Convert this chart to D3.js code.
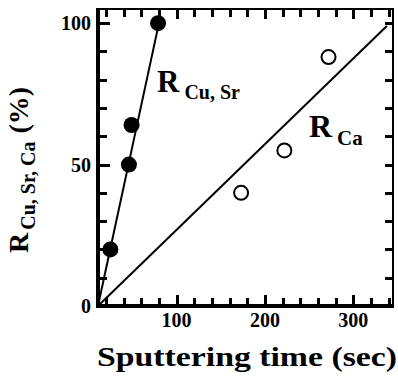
<!DOCTYPE html>
<html>
<head>
<meta charset="utf-8">
<script src="https://cdn.jsdelivr.net/npm/d3@7"></script>
<style>
  body { margin: 0; background: #fff; }
</style>
</head>
<body>
<div id="chart"></div>
<script>
// data
var cuSrTime = [25, 46, 49, 79];
var cuSrValue = [20, 50, 64, 100];
var caTime = [173, 222, 272];
var caValue = [40, 55, 88];
// fitted lines (end points)
var cuSrFitTime = [11, 80];
var cuSrFitValue = [0, 100];
var caFitTime = [11, 338];
var caFitValue = [0, 99];
// ticks
var xLabelTicks = [100, 200, 300];
var xMinorTicks = [20, 40, 60, 80, 120, 140, 160, 180, 220, 240, 260, 280, 320, 340];
var yLabelTicks = [0, 50, 100];
var yMinorTicks = [10, 20, 30, 40, 60, 70, 80, 90];

var fontFamily = "'Liberation Serif', 'Times New Roman', Times, serif";

var svgWidth = 398, svgHeight = 385;
var margin = {top: 9, right: 5, bottom: 79, left: 98};
var graphWidth = svgWidth - margin.left - margin.right;
var graphHeight = svgHeight - margin.top - margin.bottom;

var svg = d3.select("#chart").append("svg")
    .attr("width", svgWidth)
    .attr("height", svgHeight)
    .attr("font-family", fontFamily)
    .attr("font-weight", "bold");
var g = svg.append("g")
    .attr("transform", "translate(" + margin.left + "," + margin.top + ")");

var x = d3.scaleLinear().domain([11, 345]).range([0, graphWidth]);
var y = d3.scaleLinear().domain([0, 105]).range([graphHeight, 0]);

// frame
g.append("rect").attr("x", 0).attr("y", 0).attr("width", graphWidth).attr("height", graphHeight)
    .attr("fill", "none").attr("stroke", "#000").attr("stroke-width", 2);
g.append("line").attr("x1", 0).attr("x2", 0).attr("y1", -1).attr("y2", graphHeight + 2)
    .attr("stroke", "#000").attr("stroke-width", 4);
g.append("line").attr("x1", -2).attr("x2", graphWidth + 1).attr("y1", graphHeight).attr("y2", graphHeight)
    .attr("stroke", "#000").attr("stroke-width", 4);

// inward ticks on all four sides
var ticks = g.append("g").attr("class", "ticks");
function xTicks(values, y0, len){
    ticks.selectAll(null).data(values).enter().append("rect")
        .attr("x", d => Math.round(x(d)) - 1).attr("width", 3)
        .attr("y", len < 0 ? y0 + len : y0).attr("height", Math.abs(len))
        .attr("fill", "#000");
}
function yTicks(values, x0, len){
    ticks.selectAll(null).data(values).enter().append("rect")
        .attr("y", d => Math.round(y(d)) - 1).attr("height", 3)
        .attr("x", len < 0 ? x0 + len : x0).attr("width", Math.abs(len))
        .attr("fill", "#000");
}
xTicks(xMinorTicks, graphHeight, -8);
xTicks(xLabelTicks, graphHeight, -11);
xTicks(xMinorTicks, 0, 8);
xTicks(xLabelTicks, 0, 10);
yTicks(yMinorTicks, 0, 9);
yTicks(yLabelTicks, 0, 12);
yTicks(yMinorTicks.concat(yLabelTicks), graphWidth, -8);

// tick labels
g.selectAll(".xlab").data(xLabelTicks).enter().append("text")
    .attr("x", d => x(d)).attr("y", graphHeight + 21)
    .attr("text-anchor", "middle").attr("font-size", 20)
    .text(d => d);
g.selectAll(".ylab").data(yLabelTicks).enter().append("text")
    .attr("x", -7).attr("y", d => y(d) + 7)
    .attr("text-anchor", "end").attr("font-size", 20)
    .text(d => d);

// fit lines
var line = d3.line().x(d => x(d[0])).y(d => y(d[1]));
g.append("path").datum(d3.zip(cuSrFitTime, cuSrFitValue))
    .attr("d", line).attr("fill", "none").attr("stroke", "#000").attr("stroke-width", 2);
g.append("path").datum(d3.zip(caFitTime, caFitValue))
    .attr("d", line).attr("fill", "none").attr("stroke", "#000").attr("stroke-width", 2);

// points
g.selectAll(".cusr").data(d3.zip(cuSrTime, cuSrValue)).enter().append("circle")
    .attr("cx", d => x(d[0])).attr("cy", d => y(d[1])).attr("r", 8)
    .attr("fill", "#000");
g.selectAll(".ca").data(d3.zip(caTime, caValue)).enter().append("circle")
    .attr("cx", d => x(d[0])).attr("cy", d => y(d[1])).attr("r", 7)
    .attr("fill", "#fff").attr("stroke", "#000").attr("stroke-width", 2);

// in-plot labels
var lab1 = svg.append("text").attr("x", 157).attr("y", 92).attr("font-size", 31);
lab1.append("tspan").text("R");
lab1.append("tspan").attr("dx", 5).attr("dy", 7).attr("font-size", 20).text("Cu, Sr");
var lab2 = svg.append("text").attr("x", 309).attr("y", 137).attr("font-size", 32);
lab2.append("tspan").text("R");
lab2.append("tspan").attr("dx", 5).attr("dy", 8).attr("font-size", 21).text("Ca");

// axis titles
svg.append("text").attr("x", 97).attr("y", 366)
    .attr("textLength", 300).attr("lengthAdjust", "spacingAndGlyphs")
    .attr("font-size", 28).text("Sputtering time (sec)");
var yt = svg.append("text").attr("transform", "translate(28,253) rotate(-90)")
    .attr("font-size", 28);
yt.append("tspan").text("R");
yt.append("tspan").attr("dx", 3).attr("dy", 7).attr("font-size", 20).text("Cu, Sr, Ca");
yt.append("tspan").attr("dx", 8).attr("dy", -7).text("(%)");
</script>
</body>
</html>
